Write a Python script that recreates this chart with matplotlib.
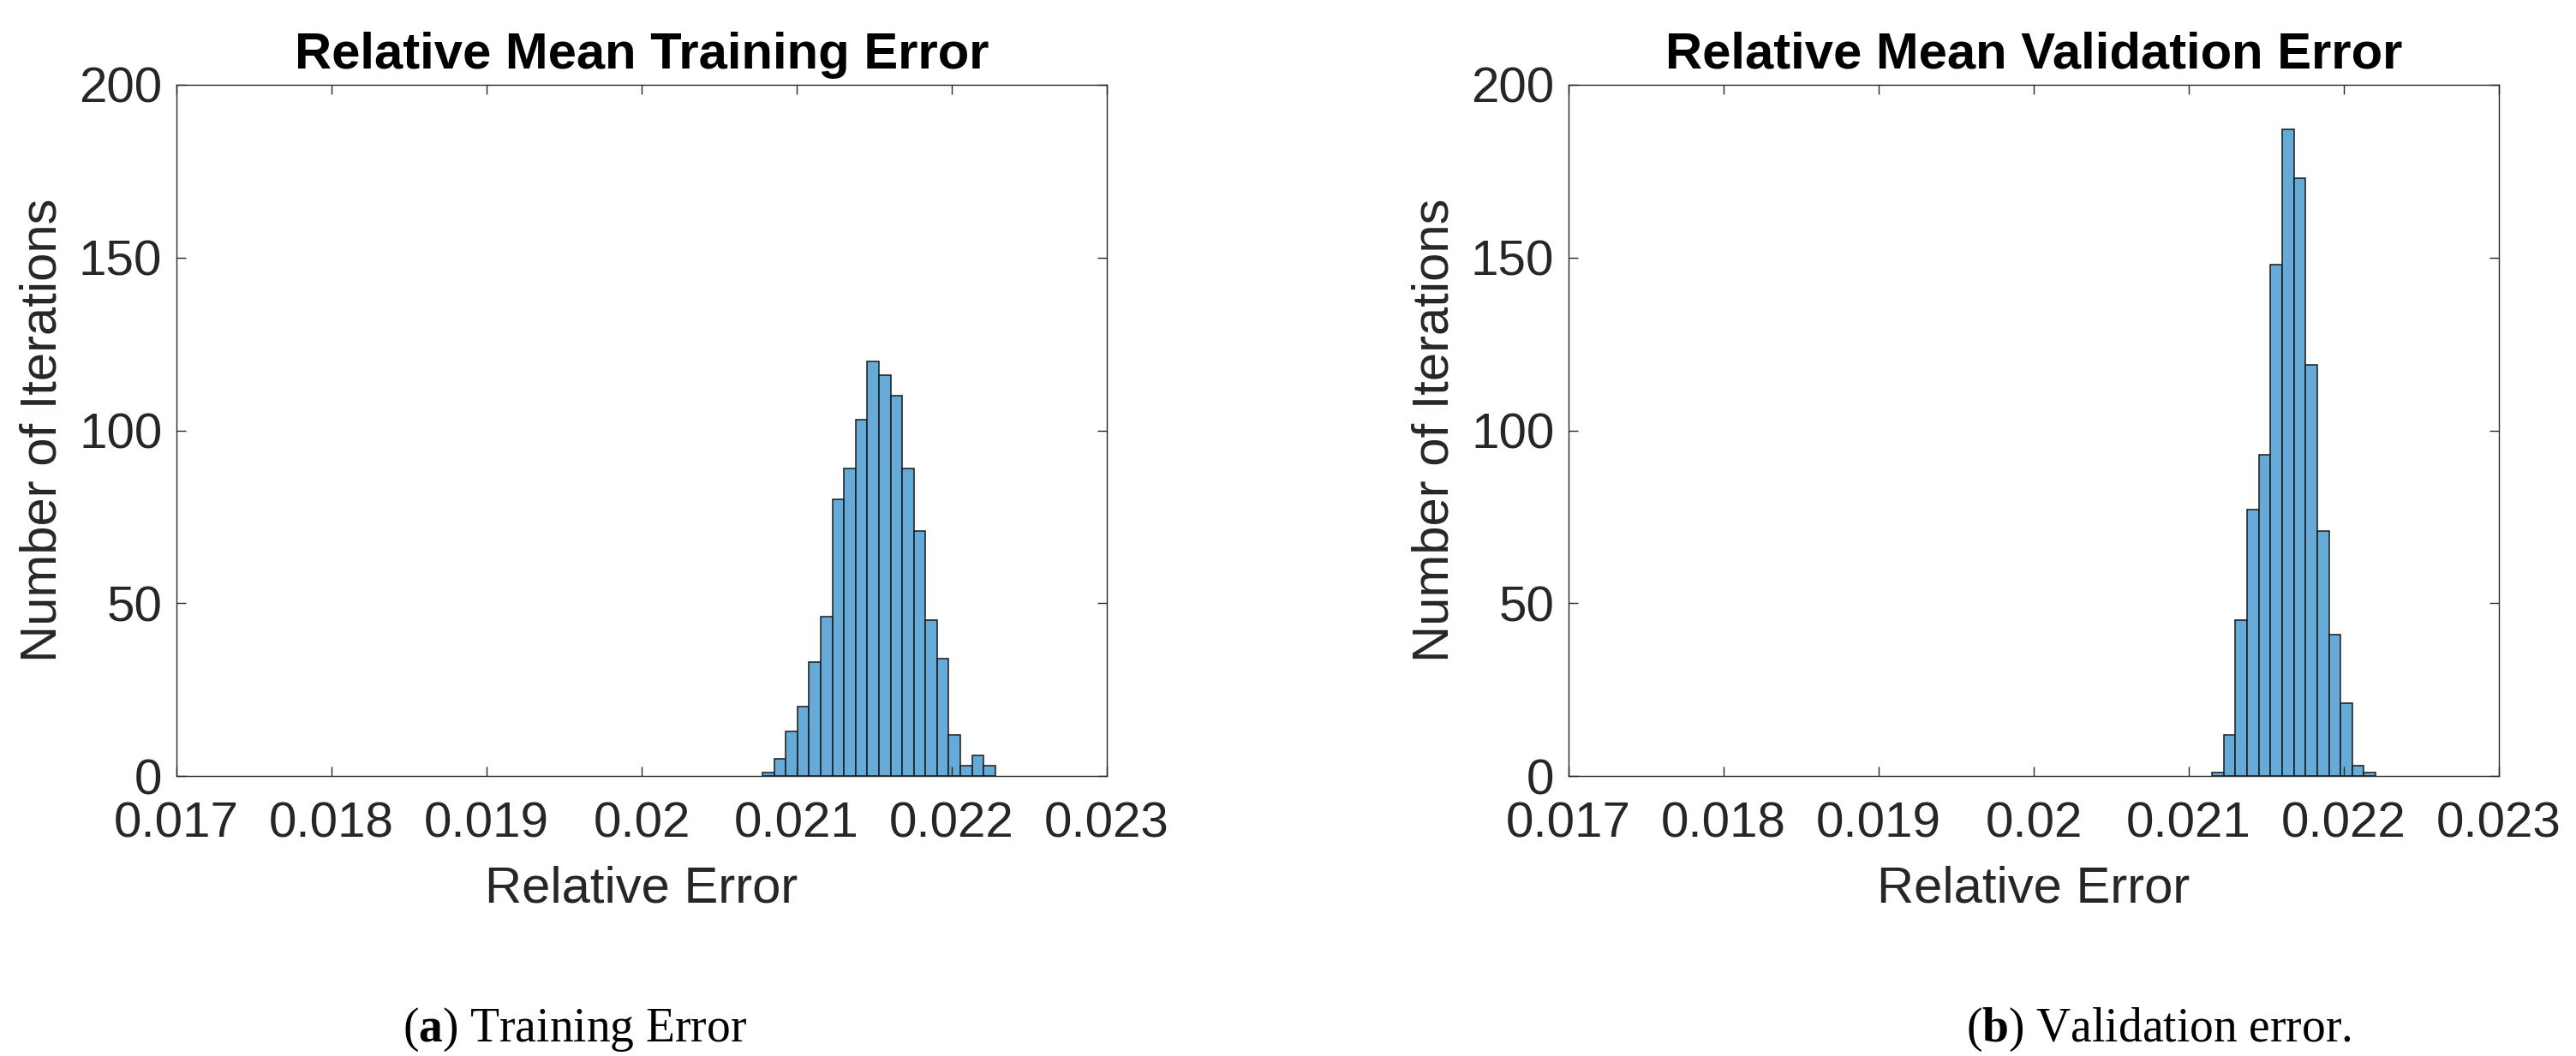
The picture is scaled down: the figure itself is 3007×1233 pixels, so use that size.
import numpy as np
import matplotlib
matplotlib.use("Agg")
import matplotlib.pyplot as plt

# 直方圖資料
train_edges = np.linspace(0.02078, 0.02228, 21)
train_counts = [1, 5, 13, 20, 33, 46, 80, 89, 103, 120,
                116, 110, 89, 71, 45, 34, 12, 3, 6, 3]

val_edges = np.linspace(0.02115, 0.022205, 15)
val_counts = [1, 12, 45, 77, 93, 148, 187, 173, 119, 71, 41, 21, 3, 1]

x_ticks = [0.017, 0.018, 0.019, 0.020, 0.021, 0.022, 0.023]
x_ticklabels = ["0.017", "0.018", "0.019", "0.02", "0.021", "0.022", "0.023"]
y_ticks = [0, 50, 100, 150, 200]

titles = ["Relative Mean Training Error", "Relative Mean Validation Error"]

plt.rcParams["font.family"] = ["Liberation Sans", "DejaVu Sans"]
plt.rcParams["mathtext.fontset"] = "custom"
plt.rcParams["mathtext.bf"] = "Liberation Serif:bold"
plt.rcParams["mathtext.rm"] = "Liberation Serif"

W, H = 3007, 1233
fig = plt.figure(figsize=(W / 100, H / 100), dpi=100)

bar_color = "#66aad7"
axis_color = "#262626"

panels = [(206, train_edges, train_counts, titles[0]),
          (1831, val_edges, val_counts, titles[1])]

for left, edges, counts, title in panels:
    ax = fig.add_axes([left / W, 1 - 906 / H, 1086 / W, 807 / H])
    ax.bar(edges[:-1], counts, width=np.diff(edges), align="edge",
           color=bar_color, edgecolor="#1a1a1a", linewidth=1.1)
    ax.set_xlim(0.017, 0.023)
    ax.set_ylim(0, 200)
    ax.set_xticks(x_ticks)
    ax.set_xticklabels(x_ticklabels)
    ax.set_yticks(y_ticks)
    ax.tick_params(direction="in", length=8, width=1.0, colors=axis_color,
                   labelsize=42, top=True, right=True)
    ax.tick_params(axis="x", pad=21)
    ax.tick_params(axis="y", pad=12)
    for s in ax.spines.values():
        s.set_color(axis_color)
        s.set_linewidth(1.0)
    ax.set_title(title, fontsize=43, fontweight="bold", pad=14)
    ax.set_xlabel("Relative Error", fontsize=43, color=axis_color)
    ax.set_ylabel("Number of Iterations", fontsize=43, color=axis_color)
    ax.xaxis.set_label_coords(0.5, -0.13)
    ax.yaxis.set_label_coords(-0.118, 0.5)

# 子圖說明
serif = ["Liberation Serif", "DejaVu Serif"]
fig.text(671 / W, 1 - 1202 / H, r"($\mathbf{a}$) Training Error", ha="center", va="center",
         fontsize=40, family=serif)
fig.text(2520 / W, 1 - 1202 / H, r"($\mathbf{b}$) Validation error.", ha="center", va="center",
         fontsize=40, family=serif)

plt.savefig("out.png", dpi=100)
